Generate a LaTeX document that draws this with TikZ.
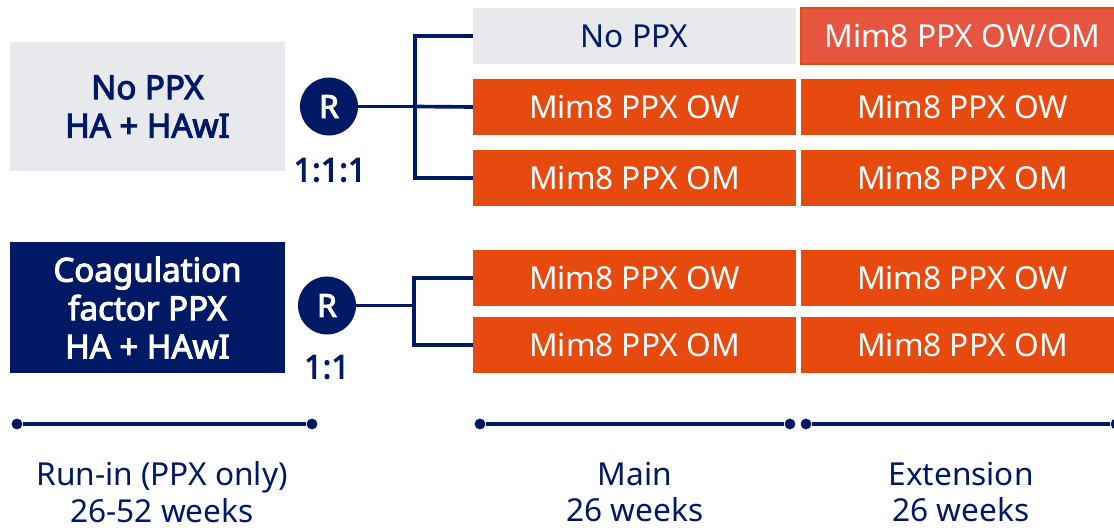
\documentclass[tikz,border=0pt]{standalone}
\usepackage{fontspec}
\setmainfont{Noto Sans}[AutoFakeBold=3.2]
\usetikzlibrary{positioning,calc}
\definecolor{nnblau}{HTML}{001965}
\definecolor{nnorange}{HTML}{E64A0F}
\definecolor{nnrot}{HTML}{E5553F}
\definecolor{nngrau}{HTML}{E8E9EC}
\tikzset{
  nnarm/.style={fill=nnorange, text=white, minimum width=8.07cm, minimum height=1.42cm,
                inner sep=0pt, font=\fontsize{22.5}{26}\selectfont},
  nnleer/.style={nnarm, fill=nngrau, text=nnblau},
  nnwahl/.style={nnarm, fill=nnrot, draw=nnorange, line width=1.4pt},
  nnstart/.style={fill=nngrau, text=nnblau, minimum width=6.87cm, align=center,
                  inner sep=0pt, font=\bfseries\fontsize{23.5}{27.3}\selectfont},
  nnstartdunkel/.style={nnstart, fill=nnblau, text=white},
  nnrand/.style={circle, fill=nnblau, text=white, minimum size=1.45cm, inner sep=0pt,
                 font=\bfseries\fontsize{22.5}{26}\selectfont},
  nnquote/.style={text=nnblau, font=\bfseries\fontsize{23}{26}\selectfont},
  nnlinie/.style={draw=nnblau, line width=2.6pt},
  nnpunkt/.style={circle, fill=nnblau, minimum size=0.27cm, inner sep=0pt},
  nnphase/.style={text=nnblau, align=center, font=\fontsize{22.5}{26.3}\selectfont},
}
\begin{document}
\begin{tikzpicture}[x=0.025cm, y=-0.025cm]
  \useasboundingbox (0,0) rectangle (1114,532);
  % Startgruppen
  \node[nnstart, minimum height=3.22cm] (s1) at (147.5,106.5) {No PPX\\HA + HAwI};
  \node[nnstartdunkel, minimum height=3.27cm] (s2) at (147.5,307.5) {Coagulation\\factor PPX\\HA + HAwI};
  % Randomisierung
  \node[nnrand] (r1) at (329,106.5) {R};
  \node[nnrand] (r2) at (327,305.5) {R};
  \node[nnquote] (q1) at (330,170) {1:1:1};
  \node[nnquote] (q2) at (327,367) {1:1};
  % Hauptphase
  \node[nnleer] (m1) at (634.5,36) {No PPX};
  \node[nnarm] (m2) at (634.5,107) {Mim8 PPX OW};
  \node[nnarm] (m3) at (634.5,178) {Mim8 PPX OM};
  \node[nnarm] (m4) at (634.5,278) {Mim8 PPX OW};
  \node[nnarm] (m5) at (634.5,345) {Mim8 PPX OM};
  % Extension
  \node[nnwahl] (e1) at (962.5,36) {Mim8 PPX OW/OM};
  \node[nnarm] (e2) at (962.5,107) {Mim8 PPX OW};
  \node[nnarm] (e3) at (962.5,178) {Mim8 PPX OM};
  \node[nnarm] (e4) at (962.5,278) {Mim8 PPX OW};
  \node[nnarm] (e5) at (962.5,345) {Mim8 PPX OM};
  % Verzweigungen
  \coordinate (j1) at (415,106.5);
  \coordinate (j2) at (414,305.5);
  \draw[nnlinie] (r1.east) -- (j1);
  \draw[nnlinie] (j1) -- (m2.west);
  \draw[nnlinie] (j1) |- (m1.west);
  \draw[nnlinie] (j1) |- (m3.west);
  \draw[nnlinie] (r2.east) -- (j2);
  \draw[nnlinie] (j2) |- (m4.west);
  \draw[nnlinie] (j2) |- (m5.west);
  % Zeitachse
  \node[nnpunkt] (t1) at (17,424) {};
  \node[nnpunkt] (t2) at (312,424) {};
  \node[nnpunkt] (t3) at (480,424) {};
  \node[nnpunkt] (t4) at (790,424) {};
  \node[nnpunkt] (t5) at (806,424) {};
  \node[nnpunkt] (t6) at (1116,424) {};
  \draw[nnlinie] (t1) -- (t2);
  \draw[nnlinie] (t3) -- (t4);
  \draw[nnlinie] (t5) -- (t6);
  \node[nnphase] (p1) at (162,492) {Run-in (PPX only)\\26-52 weeks};
  \node[nnphase] (p2) at (635,492) {Main\\26 weeks};
  \node[nnphase] (p3) at (961,492) {Extension\\26 weeks};
\end{tikzpicture}
\end{document}
